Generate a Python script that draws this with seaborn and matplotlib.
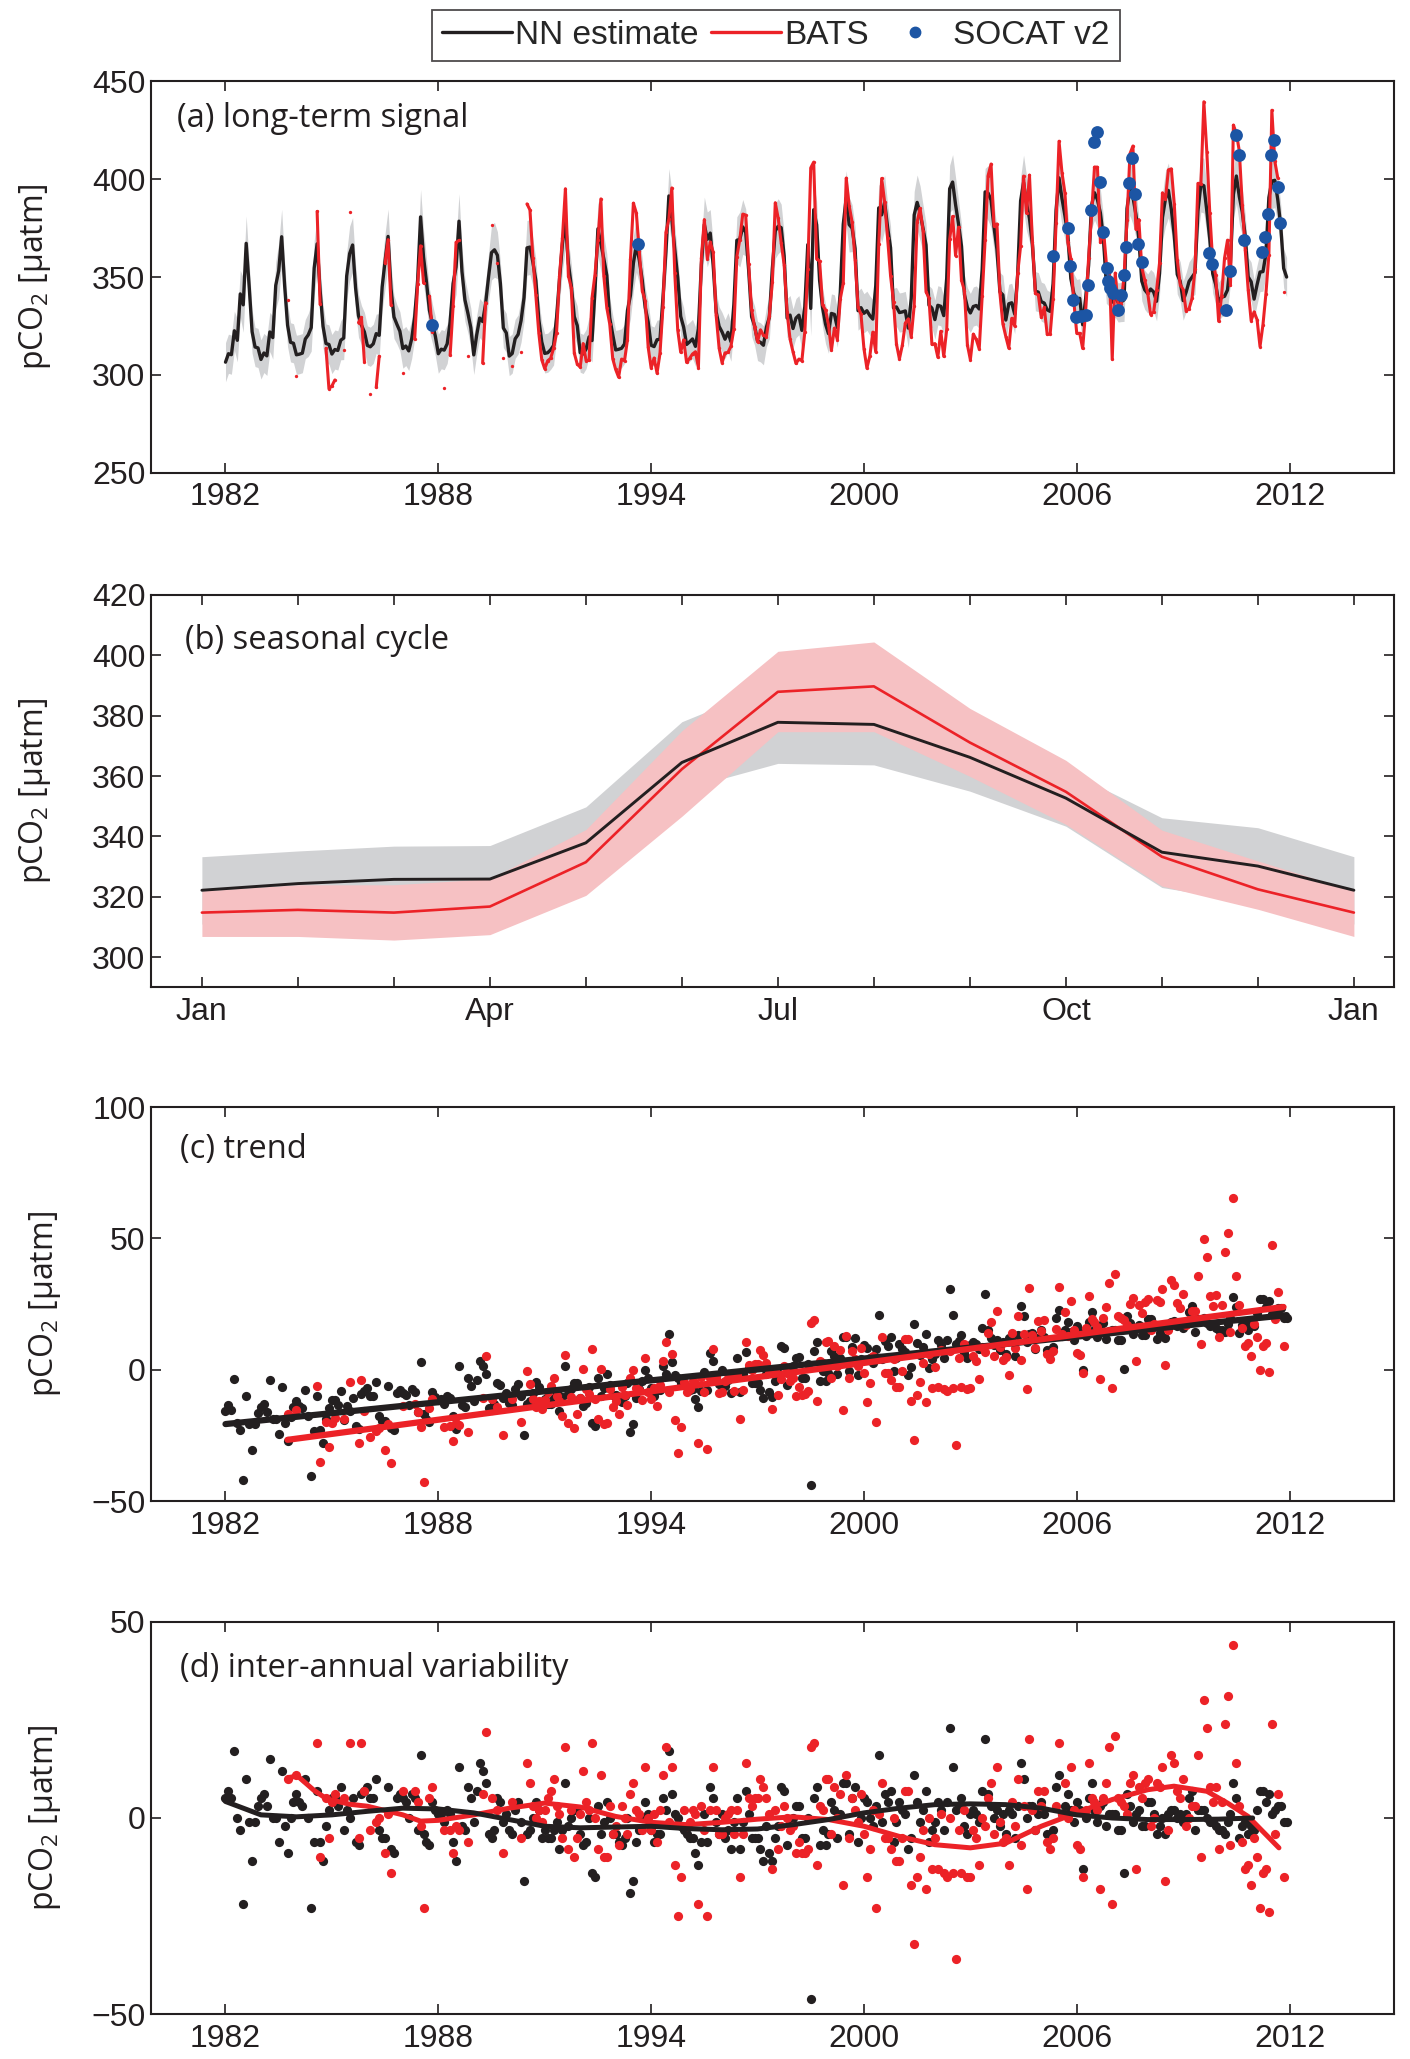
import numpy as np
import pandas as pd
import matplotlib
matplotlib.use('Agg')
import matplotlib.pyplot as plt
from matplotlib.lines import Line2D
import seaborn as sns

nan = np.nan

# ---------------- panel (b): mean seasonal cycle, Jan..Dec ----------------
nn_clim = [322.2, 324.4, 325.8, 325.9, 337.9, 364.5, 377.8, 377.1, 366.2, 352.7, 334.8, 330.2]
nn_clim_lo = [311.0, 313.0, 314.0, 314.0, 326.0, 355.5, 364.2, 363.7, 355.0, 343.4, 323.1, 318.0]
nn_clim_hi = [333.3, 335.2, 336.8, 337.0, 349.8, 378.0, 391.0, 390.0, 378.0, 362.0, 346.2, 342.9]
bats_clim = [314.8, 315.7, 314.8, 316.8, 331.5, 362.3, 387.9, 389.7, 371.1, 354.8, 333.3, 322.5]
bats_clim_lo = [306.9, 306.9, 305.7, 307.5, 320.5, 346.7, 374.7, 374.7, 359.9, 344.0, 323.6, 315.9]
bats_clim_hi = [322.0, 324.0, 324.0, 326.0, 342.3, 375.0, 401.3, 404.4, 382.4, 365.2, 342.1, 331.9]
month_ticks = [1, 4, 7, 10, 13]
month_labels = ['Jan', 'Apr', 'Jul', 'Oct', 'Jan']

# ---------------- panel (d): monthly de-seasonalised, de-trended anomalies ----------------
years = list(range(1982, 2012))
nn_resid = [
    [5, 7, 5, 17, 0, -3, -22, 10, -1, -11, -1, 3],        # 1982
    [5, 6, 3, 15, 0, 0, -6, 12, -2, -9, 0, 4],
    [6, 4, 3, 10, 0, -23, -6, 7, -6, -11, -2, 2],
    [5, 5, 3, 8, -3, 2, 0, 5, -6, -7, 6, 7],
    [8, 5, 5, 10, -3, -5, -5, 8, -8, -9, 5, 6],
    [5, 4, 0, 6, 5, -3, 16, -4, -6, -7, 4, 2],
    [1, 1, -1, 2, 1, -6, -11, 13, -2, -3, 8, 5],
    [-1, 7, 14, 12, 9, -4, -5, -3, 5, 4, -1, 1],
    [-3, -4, 2, 4, -1, -16, -4, -3, 0, 4, 2, -5],         # 1990
    [-3, -5, -5, -3, -1, -8, -3, 9, -2, 0, 2, 2],
    [-4, -7, -6, 0, -14, -15, 3, -4, -1, 4, 0, -4],
    [-4, -6, -7, -5, 0, -19, -16, -6, -3, 0, 4, 1],
    [-3, -6, -4, -4, 5, 2, 17, 6, 1, 0, -2, -3],
    [-4, -5, -5, -9, -12, -6, 1, -6, 8, 5, -1, -4],
    [1, -5, -3, -8, -1, 5, -8, -1, 7, 1, -5, -5],
    [-5, -8, -11, -2, -9, -11, -5, -2, 8, 7, -7, -1],
    [0, 3, 3, -5, -5, 0, -46, 5, 8, -7, -3, -7],
    [-4, 4, 2, -5, 1, 9, 9, -4, 5, 8, -6, 0],
    [5, 4, 0, -2, 3, 16, -1, 6, 4, 7, -6, -1],            # 2000
    [4, 2, 1, -8, -5, 11, 4, -1, 2, 7, -6, -3],
    [-1, 4, 2, -3, 4, 23, 13, 2, 3, 5, -2, -4],
    [1, 2, 1, -1, 7, 20, 6, 3, 0, 2, -2, 1],
    [-4, 2, 1, -5, 3, 14, 10, 0, 3, 3, -3, 1],
    [4, 1, -4, -5, -3, 8, 11, 1, 3, 6, 2, -1],
    [4, 2, -13, 0, 5, 9, 2, -1, 3, 4, -2, 1],
    [1, 1, -3, -3, -14, 6, 3, -1, 1, 2, -2, -2],
    [4, 4, 1, -4, -2, 0, -4, 1, 2, 2, 0, 1],
    [-1, 1, 5, 7, -3, 2, 2, 2, 0, -1, -1, -2],
    [-3, -3, -4, -1, 1, 9, 5, -5, -2, -1, -4, -2],
    [-3, 2, 7, 7, 4, 6, 1, 2, 3, 3, -1, -1],              # 2011
]
bats_resid = [
    [nan] * 12,                                               # 1982
    [nan] * 9 + [10, nan, nan],
    [11, nan, nan, nan, nan, nan, nan, 19, -10, nan, 5, -5],
    [4, 6, nan, nan, 5, nan, 19, nan, nan, -5, 19, 7],
    [nan, -3, nan, -1, 0, nan, -9, 1, -14, nan, nan, nan],
    [7, nan, nan, nan, 7, 4, -2, -23, nan, 5, 8, nan],
    [nan, nan, -3, nan, -3, -9, -2, -3, nan, nan, -6, nan],
    [nan, nan, nan, 6, 22, nan, 5, nan, 2, nan, -9, nan],
    [nan, 4, nan, nan, -5, nan, 14, 9, 3, 0, 2, -1],         # 1990
    [2, 5, 7, 10, 3, 1, -5, 18, -8, 2, -10, -5],
    [1, 12, 4, 2, 19, 0, -8, 11, -10, -10, 3, -4],
    [-2, -7, 3, 0, -4, 6, 9, 2, 1, -3, 13, 0],
    [-3, 1, -6, 2, 11, 18, -1, 13, -12, -25, -15, 2],
    [-2, -1, 2, 1, -22, 3, -3, -25, 2, 13, 2, -4],
    [-4, 0, 1, 2, -4, 2, -15, -4, 14, 5, 3, 5],
    [5, 10, 8, 5, 1, -13, 2, -8, -2, 3, 0, -3],
    [-2, -9, -6, -9, -9, -8, 18, 19, -12, 3, 2, 10],
    [10, -4, 8, 0, 6, -17, 11, -5, 5, 2, -1, 6],
    [-4, -15, -8, 2, -23, 1, 9, -5, -5, -8, 0, -11],         # 2000
    [-11, -5, 7, 7, -17, -32, -15, -10, -3, -18, 0, -13],
    [-5, -13, 1, -14, -15, 0, -14, -36, -3, -14, 2, -15],
    [-15, -3, -5, -12, 0, -2, 5, 9, -4, 13, -1, -6],
    [-5, -12, 4, -2, 10, -7, 3, -18, 20, 2, -3, 7],
    [3, 7, -6, -8, -5, 3, 19, 1, 9, 0, 13, 2],
    [-7, -8, -15, 2, 14, 5, 4, 2, -18, 5, 9, 18],
    [-22, 21, 5, 4, 3, 1, 9, 11, -13, 8, 5, 9],
    [10, -2, 0, 9, 8, 13, -16, -3, 16, 14, 7, 5],
    [10, -2, 0, 3, 3, 16, -10, 30, 23, 8, 4, 8],
    [-8, 4, 24, 31, -7, 44, 14, 3, -6, -13, -12, -17],
    [-5, -10, -23, -14, -13, -24, 24, -4, 6, nan, -15, nan],  # 2011
]

# smoothed inter-annual variability (panel d lines)
nn_iav_x = [1982, 1983, 1984, 1985, 1986, 1987, 1988, 1989, 1990, 1991, 1992, 1993, 1994, 1995,
            1996, 1997, 1998, 1999, 2000, 2001, 2002, 2003, 2004, 2005, 2006, 2007, 2008, 2009,
            2010, 2010.96]
nn_iav_y = [4.2, 0.8, 0.3, 0.8, 1.7, 2.5, 2.3, 1.3, -0.4, -2.1, -2.5, -2.3, -2.1, -2.7,
            -3.0, -2.8, -1.7, -0.4, 1.3, 2.5, 3.4, 3.6, 3.4, 2.5, 0.8, 0.0, -0.4, -0.4,
            -0.3, 0.0]
bats_iav_x = [1983.78, 1984.03, 1984.5, 1984.85, 1985.5, 1986.0, 1987.0, 1987.5, 1988.0, 1989.0,
              1990.0, 1991.0, 1992.0, 1993.0, 1994.0, 1995.0, 1996.0, 1997.0, 1998.0, 1999.0,
              2000.0, 2001.0, 2002.0, 2003.0, 2004.0, 2005.0, 2006.0, 2007.0, 2008.0, 2008.74,
              2009.67, 2010.25, 2010.83, 2011.7]
bats_iav_y = [10.3, 10.7, 7.0, 4.9, 3.5, 3.0, 0.8, -0.8, -0.6, 0.8,
              2.5, 3.8, 2.8, 0.4, -1.1, -1.7, -1.1, -0.3, 0.3, -0.4,
              -2.1, -4.7, -6.8, -7.6, -6.4, -2.1, 1.3, 4.7, 7.2, 8.1,
              6.8, 3.8, 0.4, -7.6]

# linear trends (panel c lines), end points
nn_trend_x = [1982.0, 2011.92]
nn_trend_y = [-20.7, 20.8]
bats_trend_x = [1983.75, 2011.83]
bats_trend_y = [-26.7, 23.9]

# NN uncertainty half-width by calendar month (panel a grey band)
nn_band_hw = [10, 10, 10, 10, 11, 12, 14, 14, 12, 11, 10, 10]

# SOCAT v2 observations (panel a)
socat_time = [1987.83, 1993.63, 2005.32, 2005.75, 2005.81, 2005.90, 2005.98, 2006.13, 2006.25,
              2006.31, 2006.39, 2006.48, 2006.57, 2006.66, 2006.75, 2006.84, 2006.89, 2006.95,
              2007.03, 2007.15, 2007.24, 2007.32, 2007.38, 2007.48, 2007.56, 2007.65, 2007.74,
              2007.83, 2009.73, 2009.81, 2010.22, 2010.32, 2010.48, 2010.57, 2010.72, 2011.21,
              2011.31, 2011.39, 2011.47, 2011.56, 2011.66, 2011.72]
socat_pco2 = [325.4, 366.8, 361.0, 375.0, 355.4, 338.3, 329.5, 330.0, 330.8,
              345.8, 384.0, 418.8, 423.9, 398.4, 373.1, 354.6, 348.1, 344.4,
              341.9, 333.4, 340.7, 350.8, 365.6, 397.9, 410.6, 392.3, 366.8,
              357.6, 362.2, 356.8, 333.4, 352.9, 422.5, 412.3, 369.0, 362.6,
              370.7, 382.1, 412.6, 419.9, 396.2, 377.5]

year_ticks = [1982, 1988, 1994, 2000, 2006, 2012]

BLACK = '#231f20'
RED = '#ec2227'
BLUE = '#1c55a4'
GREY = '#d1d2d4'
PINK = '#f6c1c3'
LABEL_FONT = ['Open Sans', 'DejaVu Sans']

sns.set_theme(style='ticks')
plt.rcParams.update({
    'axes.linewidth': 1.5, 'axes.edgecolor': BLACK,
    'xtick.direction': 'in', 'ytick.direction': 'in',
    'xtick.top': True, 'ytick.right': True,
    'xtick.major.size': 7, 'ytick.major.size': 7,
    'xtick.minor.size': 7, 'xtick.major.width': 1.2, 'ytick.major.width': 1.2,
    'xtick.minor.width': 1.2,
    'xtick.labelsize': 23, 'ytick.labelsize': 23,
    'xtick.color': BLACK, 'ytick.color': BLACK,
    'xtick.major.pad': 7, 'ytick.major.pad': 4,
    'mathtext.fontset': 'custom', 'mathtext.rm': 'Open Sans', 'mathtext.it': 'Open Sans:italic',
})
plt.rcParams['font.family'] = ['Liberation Sans', 'DejaVu Sans']

# monthly time axis and derived series
t = (np.array(years)[:, None] + np.arange(12)[None, :] / 12.0).ravel()
midx = np.tile(np.arange(12), len(years))
nn_r = np.array(nn_resid, dtype=float).ravel()
bats_r = np.array(bats_resid, dtype=float).ravel()
nn_tr = np.interp(t, nn_trend_x, nn_trend_y)
bats_tr = np.interp(t, bats_trend_x, bats_trend_y)
nn_c = nn_tr + nn_r                      # de-seasonalised (panel c)
bats_c = bats_tr + bats_r
nn_a = np.array(nn_clim)[midx] + nn_c    # full signal (panel a)
bats_a = np.array(bats_clim)[midx] + bats_c
hw = np.array(nn_band_hw)[midx]

df = pd.DataFrame({'t': t, 'nn_c': nn_c, 'bats_c': bats_c, 'nn_d': nn_r, 'bats_d': bats_r})

fig = plt.figure(figsize=(14.1, 20.59), dpi=100)
left, width = 0.1071, 0.8817
ax_a = fig.add_axes([left, 0.7704, width, 0.1901])
ax_b = fig.add_axes([left, 0.5204, width, 0.1907])
ax_c = fig.add_axes([left, 0.2710, width, 0.1913])
ax_d = fig.add_axes([left, 0.0217, width, 0.1907])

# (a) long-term signal
ax_a.fill_between(t, nn_a - hw, nn_a + hw, color=GREY, lw=0, zorder=1)
ax_a.plot(t, nn_a, color=BLACK, lw=2.4, zorder=2)
ax_a.plot(t, bats_a, color=RED, lw=2.2, marker='o', ms=2.4, mew=0, zorder=3)
sns.scatterplot(x=socat_time, y=socat_pco2, ax=ax_a, color=BLUE, s=85, linewidth=0, zorder=5)

# (b) seasonal cycle
xm = np.arange(1, 14)
wrap = lambda v: list(v) + [v[0]]
ax_b.fill_between(xm, wrap(nn_clim_lo), wrap(nn_clim_hi), color=GREY, lw=0, zorder=1)
ax_b.fill_between(xm, wrap(bats_clim_lo), wrap(bats_clim_hi), color=PINK, lw=0, zorder=2)
sns.lineplot(x=xm, y=wrap(bats_clim), ax=ax_b, color=RED, lw=1.9, zorder=3)
sns.lineplot(x=xm, y=wrap(nn_clim), ax=ax_b, color=BLACK, lw=2.1, zorder=4)

# (c) trend
sns.scatterplot(data=df, x='t', y='nn_c', ax=ax_c, color=BLACK, s=44, linewidth=0, zorder=2)
sns.scatterplot(data=df, x='t', y='bats_c', ax=ax_c, color=RED, s=44, linewidth=0, zorder=3)
sns.lineplot(x=nn_trend_x, y=nn_trend_y, ax=ax_c, color=BLACK, lw=4.5, zorder=4)
sns.lineplot(x=bats_trend_x, y=bats_trend_y, ax=ax_c, color=RED, lw=4.5, zorder=5)

# (d) inter-annual variability
sns.scatterplot(data=df, x='t', y='nn_d', ax=ax_d, color=BLACK, s=44, linewidth=0, zorder=2)
sns.scatterplot(data=df, x='t', y='bats_d', ax=ax_d, color=RED, s=44, linewidth=0, zorder=3)
sns.lineplot(x=bats_iav_x, y=bats_iav_y, ax=ax_d, color=RED, lw=3.6, zorder=4)
sns.lineplot(x=nn_iav_x, y=nn_iav_y, ax=ax_d, color=BLACK, lw=3.6, zorder=5)

panels = [
    (ax_a, '(a) long-term signal', (0.021, 0.906), (250, 450), np.arange(250, 451, 50), -0.079),
    (ax_b, '(b) seasonal cycle', (0.027, 0.883), (290, 420), np.arange(300, 421, 20), -0.079),
    (ax_c, '(c) trend', (0.023, 0.893), (-50, 100), [-50, 0, 50, 100], -0.071),
    (ax_d, '(d) inter-annual variability', (0.023, 0.880), (-50, 50), [-50, 0, 50], -0.071),
]
for ax, title, pos, ylim, yticks, labx in panels:
    ax.set_ylim(*ylim)
    ax.set_yticks(yticks)
    ax.set_xlabel('')
    ax.set_ylabel('pCO$_2$ [µatm]', fontsize=23, family=LABEL_FONT, color=BLACK)
    ax.yaxis.set_label_coords(labx, 0.5)
    ax.text(pos[0], pos[1], title, transform=ax.transAxes, ha='left', va='center',
            fontsize=23.5, family=LABEL_FONT, color=BLACK)
    for s in ax.spines.values():
        s.set_visible(True)
        s.set_linewidth(1.5)
    ax.grid(False)

for ax in (ax_a, ax_c, ax_d):
    ax.set_xlim(1979.9, 2014.95)
    ax.set_xticks(year_ticks)

ax_b.set_xlim(0.47, 13.42)
ax_b.set_xticks(month_ticks)
ax_b.set_xticklabels(month_labels)
ax_b.set_xticks([m for m in range(1, 14) if m not in month_ticks], minor=True)
ax_b.tick_params(axis='x', which='minor', direction='in', top=True, length=7, width=1.2)

handles = [Line2D([], [], color=BLACK, lw=2.4),
           Line2D([], [], color=RED, lw=2.4),
           Line2D([], [], color=BLUE, lw=0, marker='o', ms=7.5)]
leg = fig.legend(handles, ['NN estimate', 'BATS', 'SOCAT v2'], loc='center',
                 bbox_to_anchor=(0.5503, 0.9828), ncol=3, frameon=True, fancybox=False,
                 edgecolor=BLACK, fontsize=24, handlelength=2.1, handletextpad=0.1,
                 columnspacing=0.35, borderpad=0.3)
leg.get_frame().set_linewidth(1.3)

fig.savefig('out.png', dpi=100)
